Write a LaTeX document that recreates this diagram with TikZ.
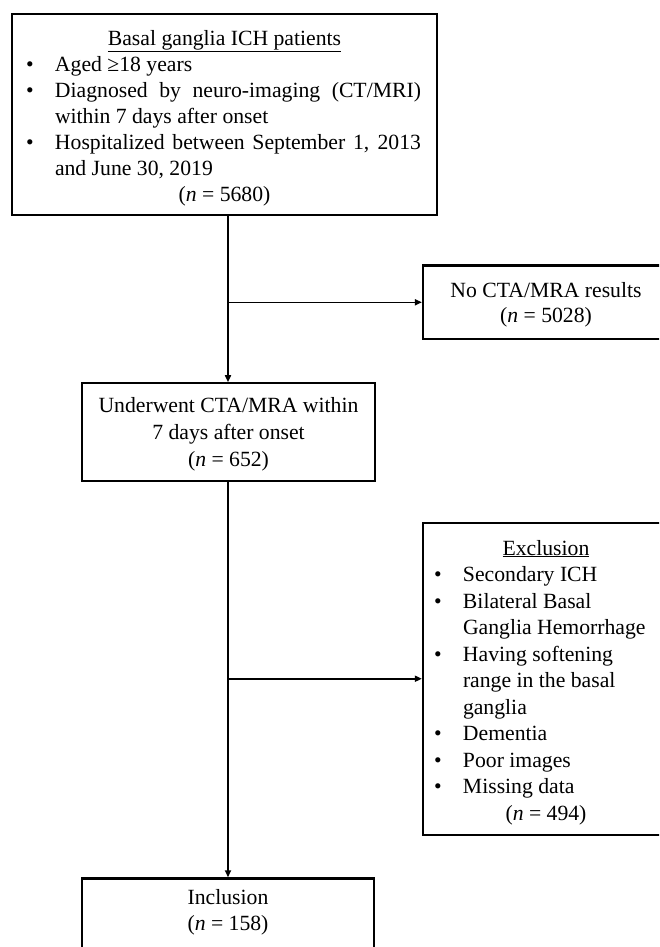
\documentclass[tikz,border=0pt]{standalone}
\usepackage{fontspec}
\setmainfont{Liberation Serif}
\usetikzlibrary{arrows.meta}
\newcommand{\flowfont}[1][26.3pt]{\fontsize{21.7pt}{#1}\selectfont\parindent=0pt}
\newlength{\itemoff}
\newlength{\itemhang}
\newcommand{\critem}{\par\hangindent=\itemhang\hangafter=1\noindent\makebox[\itemhang][l]{\hspace*{\itemoff}\textbullet}\ignorespaces}

\begin{document}
\begin{tikzpicture}[x=1pt, y=-1pt,
    box/.style={draw, line width=2.2pt, inner xsep=6pt, inner ysep=4pt, text depth=0pt, font=\flowfont},
    flow/.style={line width=1.6pt, -{Triangle[length=7pt, width=6pt]}}]

    % Page frame
    \useasboundingbox (0,0) rectangle (659,947);
    \fill[white] (0,0) rectangle (659,947);
    \clip (0,0) rectangle (659,947);

    % Left column
    \node[box, font={\flowfont[26pt]}, minimum width=425pt, anchor=north, inner ysep=16.5pt, text depth=152.8pt, text width=413pt, align=justify] (patients) at (224.5,12.7) {%
        {\centering\underline{Basal ganglia ICH patients}\par}
        \setlength{\itemoff}{8pt}\setlength{\itemhang}{37pt}\rightskip=10pt
        \critem Aged ≥18 years
        \critem Diagnosed by neuro-imaging (CT/MRI)\linebreak within 7 days after onset
        \critem Hospitalized between September 1, 2013\linebreak and June 30, 2019
        \par{\centering(\textit{n} = 5680)\par}};
    \node[box, font={\flowfont[26.7pt]}, minimum width=293pt, minimum height=97.4pt, text depth=-4.6pt, align=center] (cta) at (228.5,432) {Underwent CTA/MRA within\\7 days after onset\\(\textit{n} = 652)};
    \node[box, minimum width=292.6pt, anchor=north, inner ysep=11pt, text depth=70pt, align=center] (inclusion) at (228,877.3) {Inclusion\\(\textit{n} = 158)};

    % Right column
    \node[box, font={\flowfont[25pt]}, minimum width=246pt, minimum height=73.6pt, align=center] (nocta) at (546,302.3) {No CTA/MRA results\\(\textit{n} = 5028)};
    \node[box, font={\flowfont[26.5pt]}, minimum width=246pt, anchor=north, inner ysep=17.2pt, text depth=262.4pt, text width=230pt, inner xsep=8pt] (exclusion) at (546,521.7) {%
        \raggedright\spaceskip=0pt\xspaceskip=0pt
        {\centering\underline{Exclusion}\par}
        \setlength{\itemoff}{3pt}\setlength{\itemhang}{32pt}
        \critem Secondary ICH
        \critem Bilateral Basal\newline Ganglia Hemorrhage
        \critem Having softening\newline range in the basal\newline ganglia
        \critem Dementia
        \critem Poor images
        \critem Missing data
        \par{\centering(\textit{n} = 494)\par}};

    % Connectors
    \draw[flow] (patients.south -| inclusion.north) -- (cta.north -| inclusion.north);
    \draw[flow] (cta.south -| inclusion.north) -- (inclusion.north);
    \draw[flow] (nocta.west -| inclusion.north) -- (nocta.west);
    \draw[flow] (exclusion.west -| inclusion.north) -- (exclusion.west);
\end{tikzpicture}
\end{document}
